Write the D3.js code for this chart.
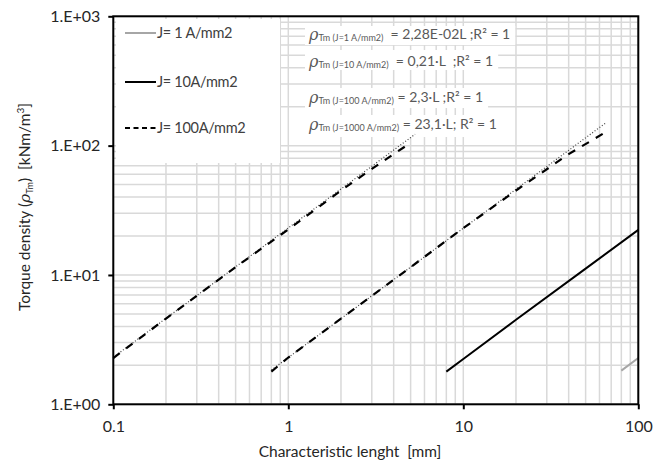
<!DOCTYPE html>
<html>
<head>
<meta charset="utf-8">
<script src="https://cdn.jsdelivr.net/npm/d3@7"></script>
<style>
  body { margin: 0; background: #fff; }
  svg text { font-family: Lato, "Open Sans", sans-serif; white-space: pre; }
</style>
</head>
<body>
<div id="chart"></div>
<script>
// values
var lenJ1 = [80, 100];
var rhoJ1 = [1.82, 2.28];
var lenJ10 = [8, 10, 20, 50, 100];
var rhoJ10 = [1.79, 2.24, 4.5, 11.2, 22.3];
var lenJ100 = [0.8, 1, 2, 5, 10, 20, 40, 65];
var rhoJ100 = [1.79, 2.3, 4.6, 11.5, 23, 45, 86, 127];
var lenJ1000 = [0.1, 0.2, 0.5, 1, 2, 3, 4, 5];
var rhoJ1000 = [2.28, 4.6, 11.5, 22.5, 45, 66, 86, 105];

// trend lines (only the dotted ones that show)
var trendK = [2.3, 23.1];
var trendLen = [[0.8, 65], [0.1, 5.3]];

var legendNames = ["J= 1 A/mm2", "J= 10A/mm2", "J= 100A/mm2"];
var eqSub = ["Tm (J=1 A/mm2)", "Tm (J=10 A/mm2)", "Tm (J=100 A/mm2)", "Tm (J=1000 A/mm2)"];
var eqRest = ["  = 2,28E-02L ;R\u00b2 = 1", "  = 0,21\u00b7L  ;R\u00b2 = 1", " = 2,3\u00b7L ;R\u00b2 = 1", " = 23,1\u00b7L; R\u00b2 = 1"];
var xTicks = [0.1, 1, 10, 100];
var xTickLabels = ["0.1", "1", "10", "100"];
var yTicks = [1, 10, 100, 1000];
var yTickLabels = ["1.E+00", "1.E+01", "1.E+02", "1.E+03"];

var W = 654, H = 462;
var svg = d3.select("#chart").append("svg").attr("width", W).attr("height", H);

var x = d3.scaleLog().domain([0.1, 100]).range([113.3, 638.3]);
var y = d3.scaleLog().domain([1, 1000]).range([404.3, 16.3]);

// grid
var gridX = [], gridY = [];
[0.1, 1, 10].forEach(function(d) { for (var k = 1; k < 10; k++) gridX.push(d * k); });
gridX.push(100);
[1, 10, 100].forEach(function(d) { for (var k = 1; k < 10; k++) gridY.push(d * k); });
gridY.push(1000);

var grid = svg.append("g").attr("stroke", "#d9d9d9").attr("stroke-width", 1.5);
grid.selectAll(".gx").data(gridX).enter().append("line")
  .attr("x1", function(d) { return x(d); }).attr("x2", function(d) { return x(d); })
  .attr("y1", y(1)).attr("y2", y(1000));
grid.selectAll(".gy").data(gridY).enter().append("line")
  .attr("y1", function(d) { return y(d); }).attr("y2", function(d) { return y(d); })
  .attr("x1", x(0.1)).attr("x2", x(100));

// legend box
svg.append("rect").attr("x", 116).attr("y", 19).attr("width", 164).attr("height", 144).attr("fill", "#fff");
var legY = [33, 82, 128];
var legStyle = [
  { stroke: "#a6a6a6", dash: null },
  { stroke: "#000", dash: null },
  { stroke: "#000", dash: "5,3.5" }
];
legendNames.forEach(function(n, i) {
  svg.append("line").attr("x1", 125).attr("x2", 156).attr("y1", legY[i]).attr("y2", legY[i])
    .attr("stroke", legStyle[i].stroke).attr("stroke-width", 2)
    .attr("stroke-dasharray", legStyle[i].dash);
  svg.append("text").attr("x", 157).attr("y", legY[i] + 5).attr("font-size", 14.5)
    .attr("letter-spacing", -0.3).attr("fill", "#404040").text(n);
});

// equation labels
var eqBase = [39, 66, 102, 129];
var eqBox = [[26, 45], [50, 70], [88, 108], [115, 137]];
eqSub.forEach(function(s, i) {
  var t = svg.append("text").attr("x", 309).attr("y", eqBase[i]).attr("fill", "#595959").attr("font-size", 14);
  t.append("tspan").attr("font-style", "italic").attr("font-family", "DejaVu Serif").attr("font-size", 16).attr("dy", 1).text("\u03c1");
  t.append("tspan").attr("font-size", 9).attr("dy", 1).text(s);
  t.append("tspan").attr("dy", -2).text(eqRest[i]);
  var bb = t.node().getBBox();
  svg.insert("rect", function() { return t.node(); })
    .attr("x", 305).attr("y", eqBox[i][0])
    .attr("width", bb.x + bb.width + 5 - 305).attr("height", eqBox[i][1] - eqBox[i][0])
    .attr("fill", "#fff");
});

// lines
var line = d3.line().x(function(d) { return x(d[0]); }).y(function(d) { return y(d[1]); });
function pts(a, b) { return a.map(function(v, i) { return [v, b[i]]; }); }

trendK.forEach(function(k, i) {
  svg.append("path").datum(trendLen[i].map(function(l) { return [l, k * l]; }))
    .attr("d", line).attr("fill", "none").attr("stroke", "#404040")
    .attr("stroke-width", 1.2).attr("stroke-dasharray", "1,2");
});

svg.append("path").datum(pts(lenJ1, rhoJ1)).attr("d", line).attr("fill", "none")
  .attr("stroke", "#a6a6a6").attr("stroke-width", 2);
svg.append("path").datum(pts(lenJ10, rhoJ10)).attr("d", line).attr("fill", "none")
  .attr("stroke", "#000").attr("stroke-width", 2);
svg.append("path").datum(pts(lenJ100, rhoJ100)).attr("d", line).attr("fill", "none")
  .attr("stroke", "#000").attr("stroke-width", 2.2).attr("stroke-dasharray", "8,8");
svg.append("path").datum(pts(lenJ1000, rhoJ1000)).attr("d", line).attr("fill", "none")
  .attr("stroke", "#000").attr("stroke-width", 2.2).attr("stroke-dasharray", "8,8");

// axes
var xAxis = d3.axisBottom(x).tickValues(xTicks).tickSize(5).tickFormat(function(d, i) { return xTickLabels[i]; });
var yAxis = d3.axisLeft(y).tickValues(yTicks).tickSize(5).tickFormat(function(d, i) { return yTickLabels[i]; });

var gx = svg.append("g").attr("transform", "translate(0," + y(1) + ")").call(xAxis);
var gy = svg.append("g").attr("transform", "translate(" + x(0.1) + ",0)").call(yAxis);
[gx, gy].forEach(function(g) {
  g.select(".domain").remove();
  g.selectAll(".tick line").attr("stroke", "#000").attr("stroke-width", 2);
  g.selectAll(".tick text").attr("font-family", "Lato").attr("font-size", 16).attr("fill", "#262626");
});
gx.selectAll(".tick text").attr("dy", "1.2em").attr("y", 9);
gy.selectAll(".tick text").attr("x", -13);

// border
svg.append("rect").attr("x", x(0.1)).attr("y", y(1000))
  .attr("width", x(100) - x(0.1)).attr("height", y(1) - y(1000))
  .attr("fill", "none").attr("stroke", "#000").attr("stroke-width", 2);

// axis titles
svg.append("text").attr("x", 350).attr("y", 457).attr("text-anchor", "middle")
  .attr("font-size", 15.5).attr("fill", "#262626").text("Characteristic lenght  [mm]");

var yt = svg.append("text").attr("transform", "translate(30,207) rotate(-90)")
  .attr("text-anchor", "middle").attr("font-size", 15.5).attr("fill", "#262626");
yt.append("tspan").text("Torque density (");
yt.append("tspan").attr("font-style", "italic").attr("font-family", "DejaVu Serif").text("\u03c1");
yt.append("tspan").attr("font-size", 9).attr("dy", 3).text("Tm");
yt.append("tspan").attr("dy", -3).text(")  [kNm/m");
yt.append("tspan").attr("font-size", 10).attr("dy", -6).text("3");
yt.append("tspan").attr("dy", 6).text("]");
</script>
</body>
</html>
